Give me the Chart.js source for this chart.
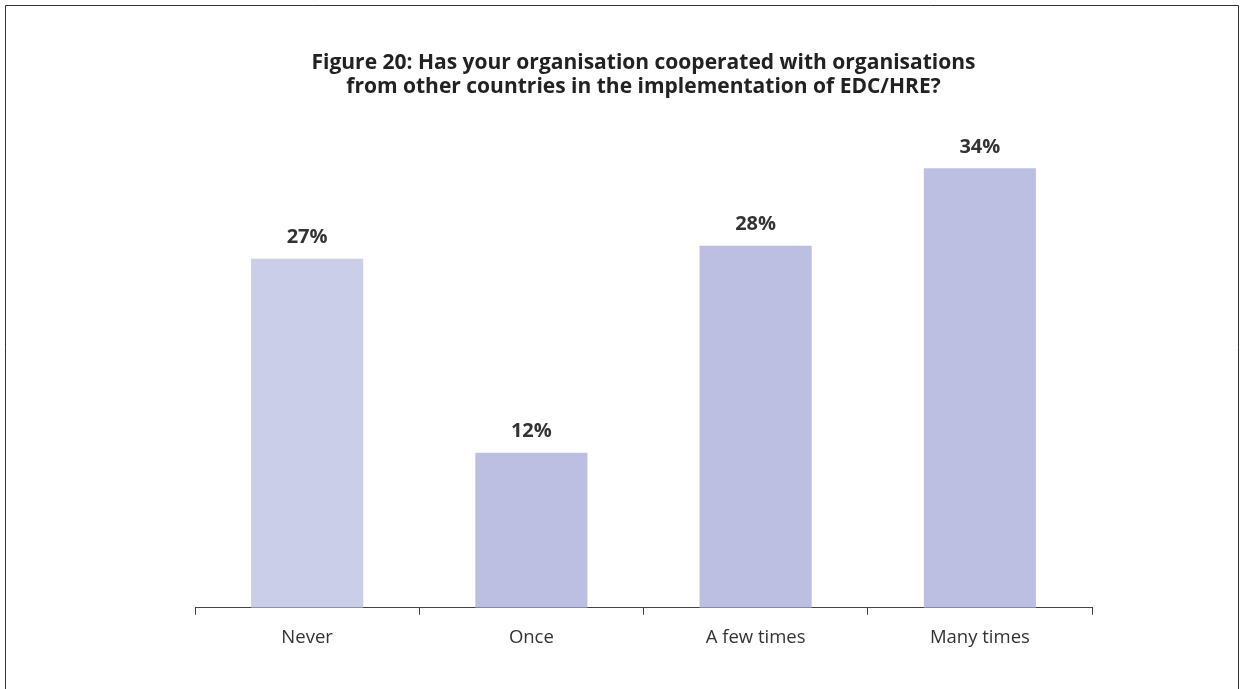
<!DOCTYPE html>
<html>
<head>
<meta charset="utf-8">
<script src="https://cdn.jsdelivr.net/npm/chart.js@4/dist/chart.umd.min.js"></script>
<style>
html,body{margin:0;padding:0;background:#fff;}
#wrap{position:absolute;left:0;top:0;width:1240px;height:689px;}
</style>
</head>
<body>
<div id="wrap"><canvas id="c" width="1240" height="689"></canvas></div>
<script>
const categories = ["Never", "Once", "A few times", "Many times"];
const values = [27, 12, 28, 34];
const valueLabels = ["27%", "12%", "28%", "34%"];
const titleLines = ["Figure 20: Has your organisation cooperated with organisations", "from other countries in the implementation of EDC/HRE?"];
const barColors = ["#cacee9", "#bcbee2", "#bcbee2", "#bcbee2"];

const frame = {
  id: 'frame',
  beforeDraw(chart) {
    const ctx = chart.ctx;
    ctx.save();
    ctx.fillStyle = '#fff';
    ctx.fillRect(0, 0, chart.width, chart.height);
    ctx.strokeStyle = '#333';
    ctx.lineWidth = 1;
    ctx.beginPath();
    ctx.moveTo(5.5, 700); ctx.lineTo(5.5, 5.5); ctx.lineTo(1238.5, 5.5); ctx.lineTo(1238.5, 700);
    ctx.stroke();
    ctx.restore();
  }
};

const valueLabelPlugin = {
  id: 'valueLabels',
  afterDatasetsDraw(chart) {
    const ctx = chart.ctx;
    const meta = chart.getDatasetMeta(0);
    ctx.save();
    ctx.font = 'bold 20px "Open Sans", sans-serif';
    ctx.fillStyle = '#333';
    ctx.textAlign = 'center';
    ctx.textBaseline = 'middle';
    meta.data.forEach((bar, i) => {
      ctx.fillText(valueLabels[i], bar.x, bar.y - 21);
    });
    ctx.restore();
  }
};

new Chart(document.getElementById('c'), {
  type: 'bar',
  data: {
    labels: categories,
    datasets: [{
      data: values,
      backgroundColor: barColors,
      borderWidth: 0,
      categoryPercentage: 1.0,
      barPercentage: 0.5
    }]
  },
  options: {
    responsive: false,
    animation: false,
    devicePixelRatio: 1,
    layout: { padding: { left: 195, right: 148, top: 0, bottom: 28 } },
    plugins: {
      legend: { display: false },
      tooltip: { enabled: false },
      title: {
        display: true,
        text: titleLines,
        color: '#222',
        font: { family: '"Open Sans", sans-serif', size: 21, weight: 'bold', lineHeight: 1.15 },
        padding: { top: 51, bottom: 43 }
      }
    },
    scales: {
      x: {
        offset: true,
        grid: {
          offset: true,
          drawOnChartArea: false,
          drawTicks: true,
          tickLength: 7,
          color: '#444',
          lineWidth: 1
        },
        border: { display: true, color: '#444', width: 1 },
        ticks: {
          color: '#333',
          padding: 12,
          font: { family: '"Open Sans", sans-serif', size: 18.5 }
        }
      },
      y: {
        display: false,
        min: 0,
        max: 36
      }
    }
  },
  plugins: [frame, valueLabelPlugin]
});
</script>
</body>
</html>
